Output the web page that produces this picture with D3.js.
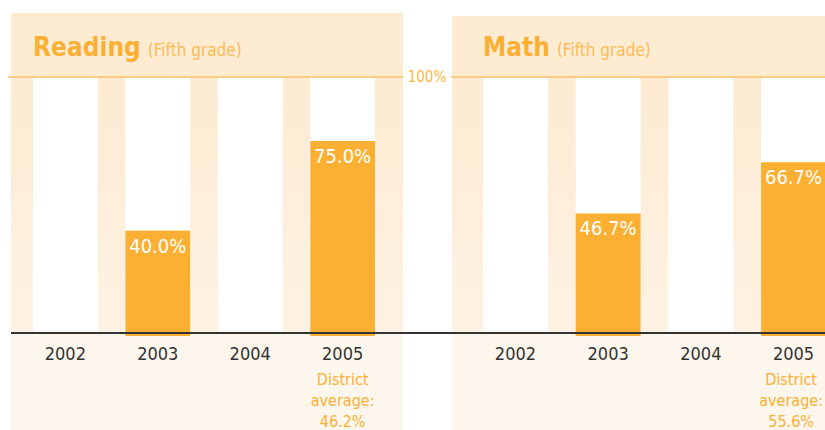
<!DOCTYPE html>
<html>
<head>
  <meta charset="utf-8">
  <script src="https://cdn.jsdelivr.net/npm/d3@7/dist/d3.min.js"></script>
  <style>
    body { margin: 0; background: #fff; }
    text { font-family: 'DejaVu Sans Condensed', sans-serif; }
  </style>
</head>
<body>
  <svg id="chart"></svg>
  <script>
    var years = ['2002', '2003', '2004', '2005'];
    var subjects = ['Reading', 'Math'];
    var subtitle = '(Fifth grade)';
    var readingValues = [null, 40.0, null, 75.0];
    var mathValues = [null, 46.7, null, 66.7];
    var districtAverages = [46.2, 55.6];
    var topTick = '100%';

    var width = 825, height = 430;
    var orange = '#fbb034';
    var peach = '#fdebd2';

    var svg = d3.select('#chart')
      .attr('width', width)
      .attr('height', height);

    var defs = svg.append('defs');
    var grad = defs.append('linearGradient')
      .attr('id', 'colgrad')
      .attr('x1', 0).attr('y1', 0).attr('x2', 0).attr('y2', 1);
    grad.append('stop').attr('offset', '0%').attr('stop-color', '#fdebd2');
    grad.append('stop').attr('offset', '100%').attr('stop-color', '#fdf2e3');

    var y = d3.scaleLinear()
      .domain([0, 100])
      .range([333, 77]);

    var panels = [
      { name: subjects[0], values: readingValues, avg: districtAverages[0], left: 11, right: 403, top: 13, x0: 33, x1: 375 },
      { name: subjects[1], values: mathValues, avg: districtAverages[1], left: 452, right: 830, top: 16, x0: 483, x1: 826 }
    ];

    panels.forEach(function (p) {
      var x = d3.scaleBand()
        .domain(years)
        .range([p.x0, p.x1])
        .paddingInner(0.3)
        .paddingOuter(0);

      var g = svg.append('g');

      // header band
      g.append('rect')
        .attr('x', p.left).attr('y', p.top)
        .attr('width', p.right - p.left).attr('height', y(100) - p.top)
        .style('fill', peach);

      // column area
      g.append('rect')
        .attr('x', p.left).attr('y', y(100))
        .attr('width', p.right - p.left).attr('height', y(0) - y(100))
        .style('fill', 'url(#colgrad)');

      // lower area
      g.append('rect')
        .attr('x', p.left).attr('y', y(0))
        .attr('width', p.right - p.left).attr('height', height - y(0))
        .style('fill', '#fdf6ec');

      // white slots
      g.selectAll('rect.slot')
        .data(years)
        .enter()
        .append('rect')
        .attr('class', 'slot')
        .attr('x', d => x(d))
        .attr('y', y(100))
        .attr('width', x.bandwidth())
        .attr('height', y(0) - y(100))
        .style('fill', '#fff');

      // title
      var t = g.append('text')
        .attr('x', p.x0)
        .attr('y', 56);
      t.append('tspan')
        .text(p.name)
        .style('font-size', '26px')
        .style('font-weight', 'bold')
        .style('fill', orange);
      t.append('tspan')
        .attr('dx', 7)
        .text(subtitle)
        .style('font-size', '17px')
        .style('fill', '#fcbc55');

      p.x = x;
      p.g = g;
    });

    // 100% line
    svg.append('line')
      .attr('x1', 8).attr('x2', 403)
      .attr('y1', y(100)).attr('y2', y(100))
      .style('stroke', '#fdc063').style('stroke-width', 1.5);
    svg.append('line')
      .attr('x1', 451).attr('x2', width)
      .attr('y1', y(100)).attr('y2', y(100))
      .style('stroke', '#fdc063').style('stroke-width', 1.5);
    svg.append('text')
      .attr('x', 427)
      .attr('y', y(100) + 5)
      .attr('text-anchor', 'middle')
      .style('font-size', '15px')
      .style('fill', '#fcb743')
      .text(topTick);

    // baseline
    svg.append('line')
      .attr('x1', 11).attr('x2', width)
      .attr('y1', y(0)).attr('y2', y(0))
      .style('stroke', '#333').style('stroke-width', 2);

    panels.forEach(function (p) {
      var x = p.x, g = p.g;
      var data = years.map((d, i) => ({ year: d, value: p.values[i] }));

      g.selectAll('rect.bar')
        .data(data.filter(d => d.value != null))
        .enter()
        .append('rect')
        .attr('class', 'bar')
        .attr('x', d => x(d.year))
        .attr('y', d => y(d.value))
        .attr('width', x.bandwidth())
        .attr('height', d => y(0) - y(d.value) + 3)
        .style('fill', orange);

      g.selectAll('text.val')
        .data(data.filter(d => d.value != null))
        .enter()
        .append('text')
        .attr('class', 'val')
        .attr('x', d => x(d.year) + x.bandwidth() / 2)
        .attr('y', d => y(d.value) + 22)
        .attr('text-anchor', 'middle')
        .style('font-size', '20px')
        .style('fill', '#fff')
        .text(d => d.value.toFixed(1) + '%');

      g.selectAll('text.year')
        .data(years)
        .enter()
        .append('text')
        .attr('class', 'year')
        .attr('x', d => x(d) + x.bandwidth() / 2)
        .attr('y', 360)
        .attr('text-anchor', 'middle')
        .style('font-size', '18px')
        .style('fill', '#333')
        .text(d => d);

      var last = years[years.length - 1];
      var avgLines = ['District', 'average:', p.avg.toFixed(1) + '%'];
      var avg = g.selectAll('text.avg')
        .data(avgLines)
        .enter()
        .append('text')
        .attr('class', 'avg')
        .attr('x', x(last) + x.bandwidth() / 2)
        .attr('y', (d, i) => 385 + i * 21)
        .attr('text-anchor', 'middle')
        .style('font-size', '16px')
        .style('fill', orange)
        .text(d => d);

      // keep the block inside the window
      var widest = d3.max(avg.nodes(), n => n.getComputedTextLength());
      var cx = Math.min(x(last) + x.bandwidth() / 2, width - 2 - widest / 2);
      avg.attr('x', cx);
    });
  </script>
</body>
</html>
